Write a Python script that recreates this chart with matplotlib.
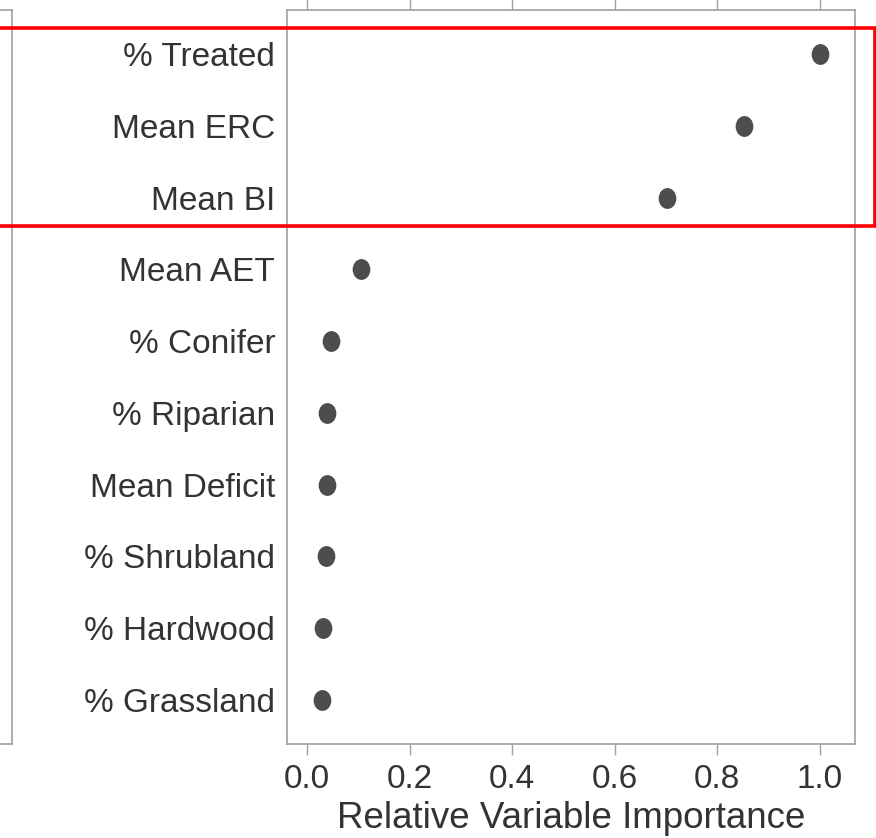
import numpy as np
import matplotlib
matplotlib.use('Agg')
import matplotlib.pyplot as plt
from matplotlib.path import Path
from matplotlib.patches import Rectangle

plt.rcParams['font.family'] = ['Liberation Sans', 'DejaVu Sans']

# variables, top to bottom
variables = ['% Treated', 'Mean ERC', 'Mean BI', 'Mean AET', '% Conifer',
             '% Riparian', 'Mean Deficit', '% Shrubland', '% Hardwood', '% Grassland']
importance = [1.0, 0.852, 0.702, 0.105, 0.046, 0.040, 0.039, 0.037, 0.031, 0.029]
xticks = [0.0, 0.2, 0.4, 0.6, 0.8, 1.0]

text_col = '#333333'
spine_col = '#a0a0a0'

fig = plt.figure(figsize=(8.76, 8.38), dpi=100)
ax = fig.add_axes([0.3276, 0.1122, 0.6479, 0.8759])

# slightly tall ellipse marker
circ = Path.unit_circle()
ell = Path(circ.vertices * np.array([0.85, 1.0]), circ.codes)

ypos = np.arange(len(variables))
ax.plot(importance, ypos, linestyle='none', marker=ell, markersize=15,
        color='#4d4d4d', markeredgewidth=0)

ax.set_ylim(len(variables) - 1 + 0.613, -0.613)
ax.set_xlim(-0.039, 1.068)
ax.set_yticks(ypos)
ax.set_yticklabels(variables)
ax.set_xticks(xticks)
ax.set_xticklabels(['%.1f' % t for t in xticks])

ax.tick_params(axis='y', length=0, pad=8.5, labelsize=24, labelcolor=text_col)
ax.tick_params(axis='x', direction='out', length=8, width=1, color=spine_col,
               pad=6.5, labelsize=24, labelcolor=text_col, top=True)
ax.set_xlabel('Relative Variable Importance', fontsize=26.5, color=text_col, labelpad=4)

for s in ax.spines.values():
    s.set_color(spine_col)
    s.set_linewidth(1.2)

# neighbouring panel, mostly cut off on the left
ax2 = fig.add_axes([-0.5, 0.1122, 0.5 + 11.5 / 876, 0.8759])
ax2.set_xticks([])
ax2.set_yticks([])
for s in ax2.spines.values():
    s.set_color(spine_col)
    s.set_linewidth(1.2)

# red highlight box around the top three
fig.patches.append(Rectangle((-0.01, 1 - 226 / 838), 875 / 876 + 0.01, 198 / 838,
                             transform=fig.transFigure, fill=False,
                             edgecolor='#ff0000', linewidth=2.6))

fig.savefig('out.png', dpi=100)
